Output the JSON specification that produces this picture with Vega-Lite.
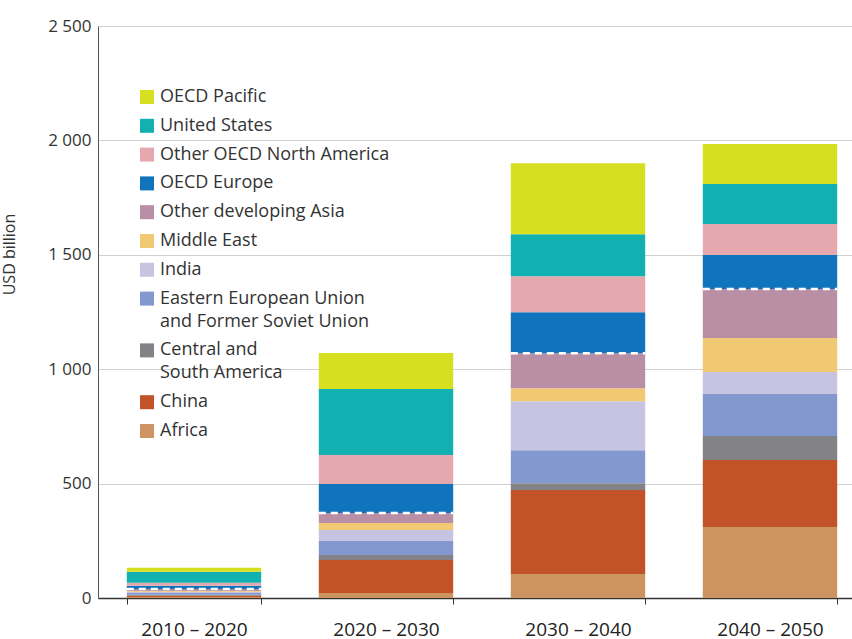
{
  "$schema": "https://vega.github.io/schema/vega-lite/v6.json",
  "width": 768,
  "height": 572,
  "autosize": {"type": "none"},
  "padding": {"left": 98, "top": 26, "right": 0, "bottom": 41},
  "background": "white",
  "config": {
    "font": "Open Sans",
    "view": {"stroke": null},
    "style": {"guide-label": {"lineHeight": 23}}
  },
  "data": {
    "values": [
      {"period": "2010 – 2020", "region": "Africa", "value": 4},
      {"period": "2010 – 2020", "region": "China", "value": 6},
      {"period": "2010 – 2020", "region": "Central and South America", "value": 4},
      {"period": "2010 – 2020", "region": "Eastern European Union and Former Soviet Union", "value": 8},
      {"period": "2010 – 2020", "region": "India", "value": 5},
      {"period": "2010 – 2020", "region": "Middle East", "value": 4},
      {"period": "2010 – 2020", "region": "Other developing Asia", "value": 8},
      {"period": "2010 – 2020", "region": "OECD Europe", "value": 15},
      {"period": "2010 – 2020", "region": "Other OECD North America", "value": 13},
      {"period": "2010 – 2020", "region": "United States", "value": 48},
      {"period": "2010 – 2020", "region": "OECD Pacific", "value": 17},
      {"period": "2020 – 2030", "region": "Africa", "value": 22},
      {"period": "2020 – 2030", "region": "China", "value": 144},
      {"period": "2020 – 2030", "region": "Central and South America", "value": 22},
      {"period": "2020 – 2030", "region": "Eastern European Union and Former Soviet Union", "value": 61},
      {"period": "2020 – 2030", "region": "India", "value": 48},
      {"period": "2020 – 2030", "region": "Middle East", "value": 31},
      {"period": "2020 – 2030", "region": "Other developing Asia", "value": 43},
      {"period": "2020 – 2030", "region": "OECD Europe", "value": 127},
      {"period": "2020 – 2030", "region": "Other OECD North America", "value": 127},
      {"period": "2020 – 2030", "region": "United States", "value": 288},
      {"period": "2020 – 2030", "region": "OECD Pacific", "value": 158},
      {"period": "2030 – 2040", "region": "Africa", "value": 105},
      {"period": "2030 – 2040", "region": "China", "value": 367},
      {"period": "2030 – 2040", "region": "Central and South America", "value": 30},
      {"period": "2030 – 2040", "region": "Eastern European Union and Former Soviet Union", "value": 144},
      {"period": "2030 – 2040", "region": "India", "value": 214},
      {"period": "2030 – 2040", "region": "Middle East", "value": 57},
      {"period": "2030 – 2040", "region": "Other developing Asia", "value": 153},
      {"period": "2030 – 2040", "region": "OECD Europe", "value": 179},
      {"period": "2030 – 2040", "region": "Other OECD North America", "value": 157},
      {"period": "2030 – 2040", "region": "United States", "value": 184},
      {"period": "2030 – 2040", "region": "OECD Pacific", "value": 310},
      {"period": "2040 – 2050", "region": "Africa", "value": 310},
      {"period": "2040 – 2050", "region": "China", "value": 293},
      {"period": "2040 – 2050", "region": "Central and South America", "value": 105},
      {"period": "2040 – 2050", "region": "Eastern European Union and Former Soviet Union", "value": 184},
      {"period": "2040 – 2050", "region": "India", "value": 96},
      {"period": "2040 – 2050", "region": "Middle East", "value": 148},
      {"period": "2040 – 2050", "region": "Other developing Asia", "value": 214},
      {"period": "2040 – 2050", "region": "OECD Europe", "value": 149},
      {"period": "2040 – 2050", "region": "Other OECD North America", "value": 136},
      {"period": "2040 – 2050", "region": "United States", "value": 174},
      {"period": "2040 – 2050", "region": "OECD Pacific", "value": 175}
    ]
  },
  "layer": [
    {
      "transform": [
        {"calculate": "indexof(['Africa','China','Central and South America','Eastern European Union and Former Soviet Union','India','Middle East','Other developing Asia','OECD Europe','Other OECD North America','United States','OECD Pacific'], datum.region)", "as": "stackOrder"}
      ],
      "mark": {"type": "bar"},
      "encoding": {
        "x": {
          "field": "period",
          "type": "nominal",
          "sort": null,
          "scale": {"paddingInner": 0.3, "paddingOuter": 0.15},
          "axis": {
            "title": null,
            "labelAngle": 0,
            "tickBand": "extent",
            "tickColor": "#333333",
            "tickSize": 6,
            "labelFontSize": 19,
            "labelColor": "#222222",
            "labelPadding": 16,
            "domainColor": "#333333",
            "domainWidth": 1.5
          }
        },
        "y": {
          "field": "value",
          "type": "quantitative",
          "stack": "zero",
          "title": "USD billion",
          "scale": {"domain": [0, 2500], "nice": false},
          "axis": {
            "values": [0, 500, 1000, 1500, 2000, 2500],
            "labelExpr": "replace(format(datum.value, ',d'), ',', ' ')",
            "ticks": false,
            "domainColor": "#555555",
            "gridColor": "#d0d0d0",
            "labelFontSize": 17,
            "labelColor": "#333333",
            "labelPadding": 7,
            "titleFontSize": 16,
            "titleFontWeight": "normal",
            "titleColor": "#333333",
            "titleX": -81,
            "titleY": 228
          }
        },
        "color": {
          "field": "region",
          "type": "nominal",
          "scale": {
            "domain": ["OECD Pacific", "United States", "Other OECD North America", "OECD Europe", "Other developing Asia", "Middle East", "India", "Eastern European Union and Former Soviet Union", "Central and South America", "China", "Africa"],
            "range": ["#d7df21", "#12b0b0", "#e4a8ae", "#1074bc", "#b98fa5", "#f1c972", "#c6c4e1", "#8298cf", "#838387", "#c25227", "#cd9461"]
          },
          "legend": {
            "orient": "none",
            "legendX": 40,
            "legendY": 62,
            "title": null,
            "symbolType": "square",
            "symbolSize": 196,
            "symbolStrokeWidth": 0,
            "labelFontSize": 18,
            "labelColor": "#333333",
            "labelOffset": 4,
            "labelLimit": 400,
            "rowPadding": 10.8,
            "padding": 0,
            "labelExpr": "datum.label == 'Eastern European Union and Former Soviet Union' ? ['Eastern European Union', 'and Former Soviet Union'] : datum.label == 'Central and South America' ? ['Central and', 'South America'] : datum.label"
          }
        },
        "order": {"field": "stackOrder", "type": "quantitative", "sort": "ascending"}
      }
    },
    {
      "transform": [
        {"filter": {"field": "region", "oneOf": ["Africa", "China", "Central and South America", "Eastern European Union and Former Soviet Union", "India", "Middle East", "Other developing Asia"]}},
        {"aggregate": [{"op": "sum", "field": "value", "as": "nonOECD"}], "groupby": ["period"]}
      ],
      "mark": {"type": "rule", "color": "white", "strokeWidth": 2.5, "strokeDash": [7, 5]},
      "encoding": {
        "x": {"field": "period", "type": "nominal", "sort": null, "bandPosition": 0},
        "x2": {"field": "period", "bandPosition": 1},
        "y": {"field": "nonOECD", "type": "quantitative", "title": "USD billion", "scale": {"domain": [0, 2500], "nice": false}}
      }
    }
  ]
}
